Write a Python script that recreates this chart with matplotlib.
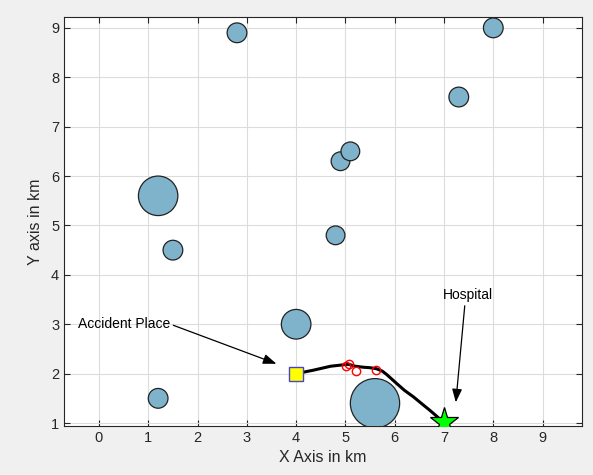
import matplotlib
matplotlib.use("Agg")
import matplotlib.pyplot as plt
from matplotlib.patches import Circle

plt.rcParams['font.family'] = ['Liberation Sans', 'DejaVu Sans']

# Obstacles (x, y, radius) in km
obs_x = [1.2, 1.5, 1.2, 2.8, 4.0, 4.8, 4.9, 5.1, 5.6, 7.3, 8.0]
obs_y = [5.6, 4.5, 1.5, 8.9, 3.0, 4.8, 6.3, 6.5, 1.4, 7.6, 9.0]
obs_r = [0.40, 0.20, 0.20, 0.20, 0.30, 0.19, 0.19, 0.19, 0.50, 0.20, 0.20]

# Path from accident place to hospital
path_x = [4.0, 4.35, 4.7, 5.06, 5.2, 5.36, 5.5, 5.63, 5.75, 5.84, 6.04, 6.2, 6.38, 6.55, 6.71, 6.85, 7.0]
path_y = [2.0, 2.07, 2.15, 2.19, 2.15, 2.13, 2.12, 2.1, 2.05, 1.98, 1.8, 1.66, 1.53, 1.39, 1.26, 1.14, 1.0]

# Red waypoints
wp_x = [5.02, 5.07, 5.21, 5.63]
wp_y = [2.16, 2.19, 2.06, 2.07]

start = (4.0, 2.0)
goal = (7.0, 1.02)

fig = plt.figure(figsize=(5.93, 4.75), dpi=100, facecolor='#f0f0f0')
ax = fig.add_axes([64/593, 1-426/475, (582-64)/593, (426-17)/475])
ax.set_facecolor('white')

for x, y, r in zip(obs_x, obs_y, obs_r):
    ax.add_patch(Circle((x, y), r, facecolor='#7fb3cc', edgecolor='#222222', lw=0.9, zorder=3))

ax.plot(path_x, path_y, color='black', lw=2.2, zorder=4, solid_joinstyle='round')
ax.plot(wp_x, wp_y, 'o', mfc='none', mec='red', ms=6, mew=1.0, zorder=5)
ax.plot(*start, 's', color='yellow', mec='#4444cc', ms=10, mew=1.0, zorder=6)
ax.plot(*goal, '*', color='#00ff00', mec='black', ms=21, mew=0.9, zorder=6)

ax.annotate('Accident Place', xy=(3.6, 2.2), xytext=(-0.42, 3.0),
            ha='left', va='center', fontsize=10,
            arrowprops=dict(arrowstyle='-|>,head_length=0.8,head_width=0.3', color='black', lw=0.9,
                            shrinkA=0, shrinkB=0, relpos=(1.0, 0.5)), zorder=7)
ax.annotate('Hospital', xy=(7.24, 1.42), xytext=(7.48, 3.6),
            ha='center', va='center', fontsize=10,
            arrowprops=dict(arrowstyle='-|>,head_length=0.8,head_width=0.3', color='black', lw=0.9,
                            shrinkA=1, shrinkB=0, relpos=(0.45, 0.0)), zorder=7)

ax.set_xlim(-0.71, 9.8)
ax.set_ylim(0.94, 9.22)
ax.set_xticks(range(0, 10))
ax.set_yticks(range(1, 10))
ax.grid(True, color='#dcdcdc', lw=0.8, zorder=0)
ax.set_axisbelow(True)
ax.tick_params(direction='in', length=4, labelsize=10.5, colors='#262626', top=True, right=True,
               labeltop=False, labelright=False)
for s in ax.spines.values():
    s.set_color('#262626')
    s.set_linewidth(0.8)
ax.set_xlabel('X Axis in km', fontsize=11.5, color='#262626', labelpad=4)
ax.set_ylabel('Y axis in km', fontsize=11.5, color='#262626', labelpad=6)

fig.savefig('out.png', dpi=100, facecolor=fig.get_facecolor())
